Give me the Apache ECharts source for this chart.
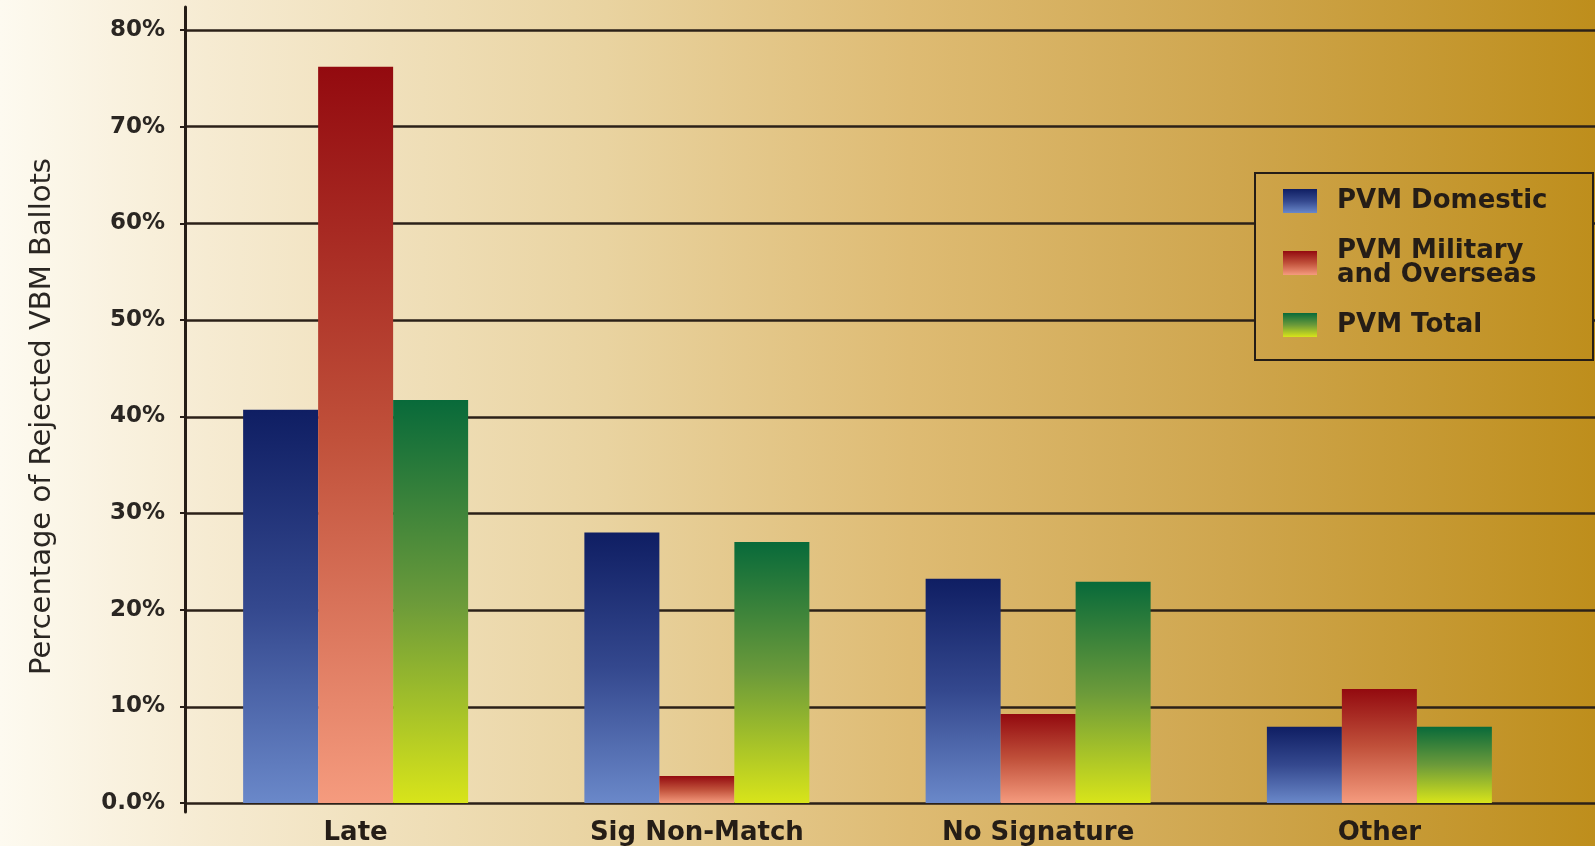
<!DOCTYPE html>
<html>
<head>
<meta charset="utf-8">
<script src="https://cdn.jsdelivr.net/npm/echarts@6/dist/echarts.min.js"></script>
<style>
html,body{margin:0;padding:0;}
#chart{width:1595px;height:846px;}
</style>
</head>
<body>
<div id="chart"></div>
<script>
// ---- data ----
var categories = ['Late', 'Sig Non-Match', 'No Signature', 'Other'];
var seriesNames = ['PVM Domestic', 'PVM Military\nand Overseas', 'PVM Total'];
var domestic = [40.7, 28.0, 23.2, 7.9];
var military = [76.2, 2.8, 9.2, 11.8];
var total = [41.7, 27.0, 22.9, 7.9];
var yTickLabels = ['0.0%', '10%', '20%', '30%', '40%', '50%', '60%', '70%', '80%'];
var yAxisTitle = 'Percentage of Rejected VBM Ballots';

// ---- styling ----
var W = 1595;
var bgStops = [
  [0.00, [253, 250, 240]],
  [0.13, [246, 235, 210]],
  [0.38, [233, 211, 160]],
  [0.57, [222, 187, 115]],
  [0.77, [207, 166, 78]],
  [1.00, [190, 142, 28]]
];
function bgAt(f) {
  for (var i = 1; i < bgStops.length; i++) {
    if (f <= bgStops[i][0]) {
      var a = bgStops[i - 1], b = bgStops[i];
      var t = (f - a[0]) / (b[0] - a[0]);
      var c = a[1].map(function (v, k) { return Math.round(v + (b[1][k] - v) * t); });
      return 'rgb(' + c.join(',') + ')';
    }
  }
  var l = bgStops[bgStops.length - 1][1];
  return 'rgb(' + l.join(',') + ')';
}
var bgGradient = new echarts.graphic.LinearGradient(0, 0, 1, 0,
  bgStops.map(function (s) { return { offset: s[0], color: 'rgb(' + s[1].join(',') + ')' }; }));
var legendLeft = 1255, legendRight = 1593;
var legendBg = new echarts.graphic.LinearGradient(0, 0, 1, 0, [
  { offset: 0, color: bgAt(legendLeft / W) },
  { offset: 1, color: bgAt(legendRight / W) }
]);

function vgrad(top, mid, bottom) {
  return new echarts.graphic.LinearGradient(0, 0, 0, 1, [
    { offset: 0, color: top }, { offset: 0.5, color: mid }, { offset: 1, color: bottom }
  ]);
}
var colBlue = vgrad('#0f1e63', '#34488e', '#6a88c9');
var colRed = vgrad('#930a0f', '#c0503a', '#f59b7e');
var colGreen = vgrad('#086a3a', '#6b9a3a', '#d8e41a');

var ink = '#251d16';
var font = 'DejaVu Sans';

var chart = echarts.init(document.getElementById('chart'), null, { renderer: 'canvas' });
var option = {
  backgroundColor: bgGradient,
  animation: false,
  legend: {
    orient: 'vertical',
    left: legendLeft,
    top: 173,
    padding: [15, 20, 22, 28],
    itemWidth: 34,
    itemHeight: 24,
    itemGap: 24,
    icon: 'rect',
    backgroundColor: legendBg,
    borderColor: ink,
    borderWidth: 2,
    borderRadius: 0,
    selectedMode: false,
    textStyle: {
      fontFamily: font, fontWeight: 'bold', fontSize: 26, color: ink,
      lineHeight: 24, width: 236, padding: [0, 0, 0, 15]
    },
    data: seriesNames
  },
  grid: [
    { left: 185, right: 45, top: 30, bottom: 42.5 },
    { left: 185, right: 0, top: 30, bottom: 42.5 },
    { left: 185, width: 1, top: 7, bottom: 34 }
  ],
  xAxis: [
    {
      type: 'category', gridIndex: 0, data: categories,
      axisLine: { show: false }, axisTick: { show: false },
      axisLabel: { fontFamily: font, fontWeight: 'bold', fontSize: 26, color: ink, margin: 17 }
    },
    { type: 'value', gridIndex: 1, show: false, min: 0, max: 1 },
    { type: 'value', gridIndex: 2, show: false, min: 0, max: 1 }
  ],
  yAxis: [
    {
      type: 'value', gridIndex: 0, min: 0, max: 80, interval: 10,
      name: yAxisTitle, nameLocation: 'middle', nameGap: 128, nameRotate: 90,
      nameTextStyle: { fontFamily: font, fontSize: 29, color: '#2a2622' },
      axisLine: { show: false },
      axisTick: { show: true, length: 5, lineStyle: { color: ink, width: 2 } },
      axisLabel: {
        fontFamily: font, fontWeight: 'bold', fontSize: 23, color: '#2a2622', margin: 20,
        formatter: function (v) { return yTickLabels[Math.round(v / 10)]; }
      },
      splitLine: { show: false }
    },
    {
      type: 'value', gridIndex: 1, min: 0, max: 80, interval: 10,
      axisLine: { show: false }, axisTick: { show: false }, axisLabel: { show: false },
      splitLine: { show: true, lineStyle: { color: '#2b2118', width: 2.5 } }
    },
    {
      type: 'value', gridIndex: 2, min: 0, max: 1,
      axisLine: { show: true, lineStyle: { color: ink, width: 3 } },
      axisTick: { show: false }, axisLabel: { show: false }, splitLine: { show: false }
    }
  ],
  series: [
    { name: seriesNames[0], type: 'bar', xAxisIndex: 0, yAxisIndex: 0, data: domestic,
      barWidth: 75, barGap: '0%', itemStyle: { color: colBlue } },
    { name: seriesNames[1], type: 'bar', xAxisIndex: 0, yAxisIndex: 0, data: military,
      barWidth: 75, barGap: '0%', itemStyle: { color: colRed } },
    { name: seriesNames[2], type: 'bar', xAxisIndex: 0, yAxisIndex: 0, data: total,
      barWidth: 75, barGap: '0%', itemStyle: { color: colGreen } }
  ]
};
chart.setOption(option);
</script>
</body>
</html>
